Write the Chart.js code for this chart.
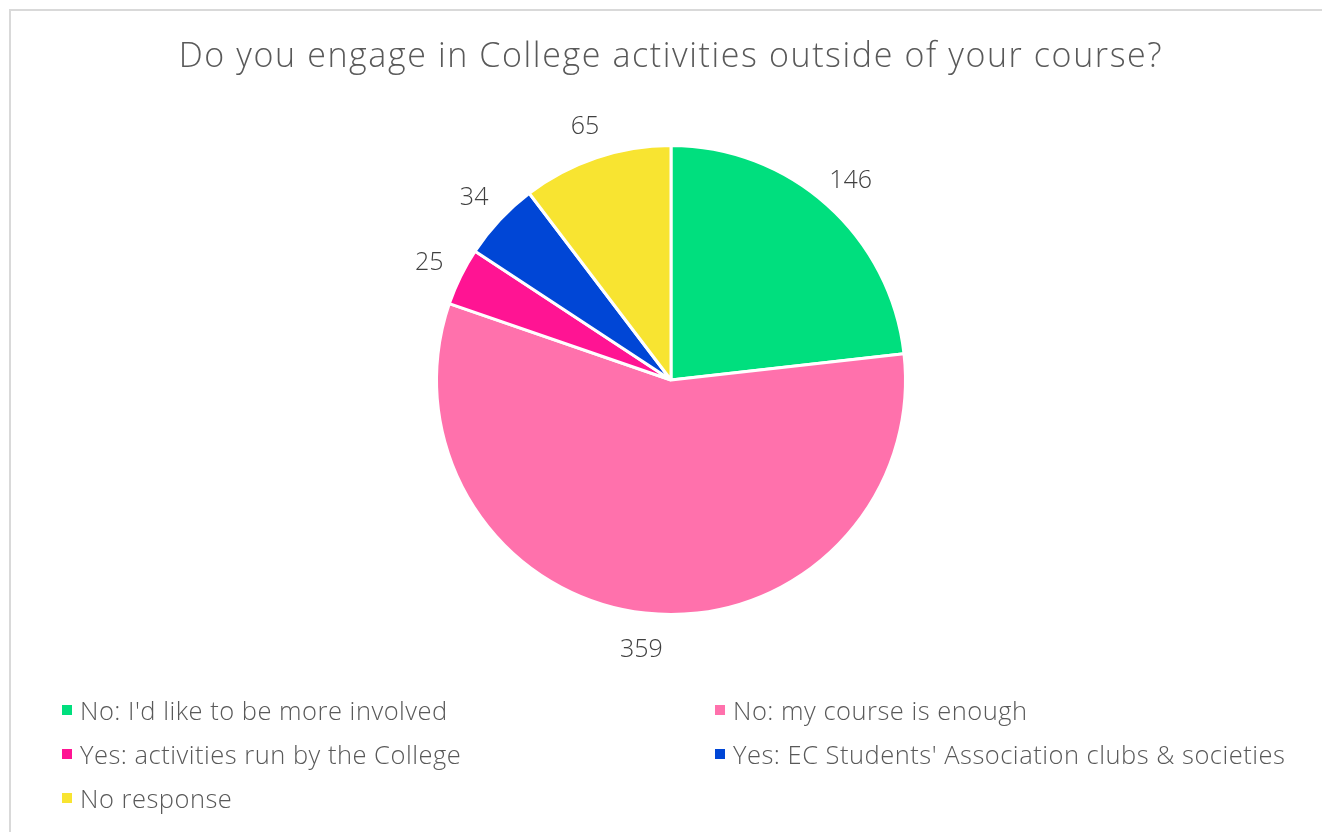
<!DOCTYPE html>
<html>
<head>
<meta charset="utf-8">
<script src="https://cdn.jsdelivr.net/npm/chart.js@4"></script>
<style>
  html, body { margin: 0; padding: 0; background: #fff; overflow: hidden; }
  body { width: 1322px; height: 832px; position: relative; font-family: "Open Sans", sans-serif; }
  .frame { position: absolute; left: 9px; top: 9px; width: 1400px; height: 900px;
           border-left: 2px solid #d9d9d9; border-top: 2px solid #d9d9d9; }
  #chartWrap { position: absolute; left: 0; top: 0; width: 1322px; height: 832px; }
  #legend { position: absolute; left: 62px; top: 693px; width: 1260px;
            display: grid; grid-template-columns: 653px auto; row-gap: 10px;
            color: #595959; font-size: 25.5px; font-weight: 300; letter-spacing: 0.5px; }
  #legend .item { display: flex; align-items: center; height: 34px; white-space: nowrap; }
  #legend .box { width: 10px; height: 10px; margin-right: 8px; flex: none; }
</style>
</head>
<body>
<div class="frame"></div>
<div id="chartWrap"><canvas id="chartPie" width="1322" height="832"></canvas></div>
<div id="legend"></div>
<script>
  const titleText = "Do you engage in College activities outside of your course?";
  const answerLabels = [
    "No: I'd like to be more involved",
    "No: my course is enough",
    "Yes: activities run by the College",
    "Yes: EC Students' Association clubs & societies",
    "No response"
  ];
  const answerCounts = [146, 359, 25, 34, 65];
  const answerColors = ["#00DF7E", "#FF71AC", "#FF1493", "#0046D6", "#F8E431"];

  // título com letras um pouco mais espaçadas
  const titleSpacing = {
    id: "titleSpacing",
    beforeDraw(chart) {
      chart.ctx.letterSpacing = "1.6px";
    },
    afterDraw(chart) {
      chart.ctx.letterSpacing = "0px";
    },
  };

  // valores fora da fatia, no ângulo médio de cada arco
  const outsideLabels = {
    id: "outsideLabels",
    afterDatasetsDraw(chart) {
      const { ctx } = chart;
      const meta = chart.getDatasetMeta(0);
      ctx.save();
      ctx.letterSpacing = "0px";
      ctx.font = '300 25px "Open Sans", sans-serif';
      ctx.fillStyle = "#404040";
      ctx.textAlign = "center";
      ctx.textBaseline = "middle";
      meta.data.forEach((arc, i) => {
        const p = arc.getProps(["x", "y", "startAngle", "endAngle", "outerRadius"], true);
        const mid = (p.startAngle + p.endAngle) / 2;
        const r = p.outerRadius + 35;
        ctx.fillText(String(answerCounts[i]), p.x + Math.cos(mid) * r, p.y + Math.sin(mid) * r + 2);
      });
      ctx.restore();
    },
  };

  new Chart(document.getElementById("chartPie"), {
    type: "pie",
    data: {
      labels: answerLabels,
      datasets: [
        {
          data: answerCounts,
          backgroundColor: answerColors,
          borderColor: "#ffffff",
          borderWidth: 3,
        },
      ],
    },
    options: {
      responsive: false,
      animation: false,
      layout: { padding: { left: 20, right: 0, top: 0, bottom: 216 } },
      plugins: {
        legend: { display: false },
        tooltip: { enabled: false },
        title: {
          display: true,
          text: titleText,
          color: "#595959",
          font: { family: "Open Sans", size: 34, weight: "300", lineHeight: 1.06 },
          padding: { top: 39, bottom: 69 },
        },
      },
    },
    plugins: [titleSpacing, outsideLabels],
  });

  // legenda em duas colunas
  const legendEl = document.getElementById("legend");
  answerLabels.forEach((label, i) => {
    const item = document.createElement("div");
    item.className = "item";
    const box = document.createElement("span");
    box.className = "box";
    box.style.background = answerColors[i];
    const txt = document.createElement("span");
    txt.textContent = label;
    item.appendChild(box);
    item.appendChild(txt);
    legendEl.appendChild(item);
  });
</script>
</body>
</html>
